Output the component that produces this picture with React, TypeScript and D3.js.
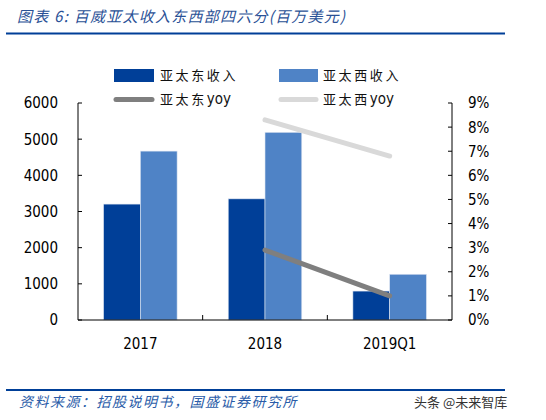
import React from 'react';
import * as d3 from 'd3';

const categories = ['2017', '2018', '2019Q1'];
const eastRevenue = [3205, 3350, 800];
const westRevenue = [4670, 5190, 1265];
const eastYoy: (number | null)[] = [null, 2.9, 1.0];
const westYoy: (number | null)[] = [null, 8.3, 6.8];
const leftTicks = [0, 1000, 2000, 3000, 4000, 5000, 6000];
const rightTicks = [0, 1, 2, 3, 4, 5, 6, 7, 8, 9];

const W = 546;
const H = 420;
const PLOT = { left: 78, right: 452, top: 103, bottom: 320 };

const EAST_BAR = '#003f98';
const WEST_BAR = '#4f83c6';
const EAST_LINE = '#7f7f7f';
const WEST_LINE = '#d9d9d9';
const RULE = '#003f98';
const NUM_FONT = "'DejaVu Sans Condensed', 'Liberation Sans', sans-serif";
const CJK_FONT = "'Noto Sans CJK SC', sans-serif";

const App: React.FC = () => {
    const x = d3.scaleBand<string>()
        .domain(categories)
        .range([PLOT.left, PLOT.right])
        .paddingInner(0)
        .paddingOuter(0);

    const inner = d3.scaleBand<string>()
        .domain(['east', 'west'])
        .range([0, x.bandwidth() * 0.59]);

    const yLeft = d3.scaleLinear().domain([0, 6000]).range([PLOT.bottom, PLOT.top]);
    const yRight = d3.scaleLinear().domain([0, 9]).range([PLOT.bottom, PLOT.top]);

    const groupOffset = (x.bandwidth() - x.bandwidth() * 0.59) / 2;

    const line = d3.line<[string, number | null]>()
        .defined(d => d[1] !== null)
        .x(d => (x(d[0]) ?? 0) + x.bandwidth() / 2)
        .y(d => yRight(d[1] as number));

    const eastPath = line(categories.map((c, i) => [c, eastYoy[i]] as [string, number | null]));
    const westPath = line(categories.map((c, i) => [c, westYoy[i]] as [string, number | null]));

    return (
        <svg
            width={W}
            height={H}
            style={{ position: 'absolute', left: 0, top: 0, background: '#fff' }}
        >
            {/* title */}
            <text
                x={17}
                y={22}
                fontFamily={CJK_FONT}
                fontSize={15}
                fontStyle="italic"
                fill="#2a5196"
                textLength={328}
                lengthAdjust="spacing"
            >
                图表 6:  百威亚太收入东西部四六分(百万美元)
            </text>
            <line x1={6} x2={505} y1={33.5} y2={33.5} stroke={RULE} strokeWidth={2} />

            {/* legend */}
            <rect x={114} y={69} width={40} height={13} fill={EAST_BAR} />
            <text x={160} y={80} fontFamily={CJK_FONT} fontSize={13} letterSpacing={2.6} fill="#111">亚太东收入</text>
            <rect x={279} y={69} width={39} height={13} fill={WEST_BAR} />
            <text x={323} y={80} fontFamily={CJK_FONT} fontSize={13} letterSpacing={2.6} fill="#111">亚太西收入</text>
            <line x1={116} x2={152} y1={99.5} y2={99.5} stroke={EAST_LINE} strokeWidth={5} strokeLinecap="round" />
            <text x={160} y={104} fontFamily={CJK_FONT} fontSize={13} fill="#111">
                <tspan letterSpacing={2.6}>亚太东</tspan><tspan fontFamily={NUM_FONT} fontSize={15}>yoy</tspan>
            </text>
            <line x1={281} x2={316} y1={99.5} y2={99.5} stroke={WEST_LINE} strokeWidth={5} strokeLinecap="round" />
            <text x={323} y={104} fontFamily={CJK_FONT} fontSize={13} fill="#111">
                <tspan letterSpacing={2.6}>亚太西</tspan><tspan fontFamily={NUM_FONT} fontSize={15}>yoy</tspan>
            </text>

            {/* bars */}
            {categories.map((c, i) => {
                const x0 = (x(c) ?? 0) + groupOffset;
                return (
                    <g key={c}>
                        <rect
                            x={x0 + (inner('east') ?? 0)}
                            y={yLeft(eastRevenue[i])}
                            width={inner.bandwidth()}
                            height={yLeft(0) - yLeft(eastRevenue[i])}
                            fill={EAST_BAR}
                            stroke="#dfe6f2"
                            strokeWidth={0.6}
                        />
                        <rect
                            x={x0 + (inner('west') ?? 0)}
                            y={yLeft(westRevenue[i])}
                            width={inner.bandwidth()}
                            height={yLeft(0) - yLeft(westRevenue[i])}
                            fill={WEST_BAR}
                            stroke="#dfe6f2"
                            strokeWidth={0.6}
                        />
                    </g>
                );
            })}

            {/* yoy lines */}
            <path d={westPath ?? ''} fill="none" stroke={WEST_LINE} strokeWidth={5} strokeLinecap="round" />
            <path d={eastPath ?? ''} fill="none" stroke={EAST_LINE} strokeWidth={5} strokeLinecap="round" />

            {/* axes */}
            <line x1={PLOT.left} x2={PLOT.right} y1={PLOT.bottom} y2={PLOT.bottom} stroke="#000" strokeWidth={1} />
            <line x1={PLOT.left} x2={PLOT.left} y1={PLOT.top} y2={PLOT.bottom} stroke="#000" strokeWidth={1} />
            <line x1={PLOT.right} x2={PLOT.right} y1={PLOT.top} y2={PLOT.bottom} stroke="#000" strokeWidth={1} />
            {categories.slice(1).map(c => (
                <line key={c} x1={x(c)} x2={x(c)} y1={PLOT.bottom} y2={PLOT.bottom - 5} stroke="#000" strokeWidth={1} />
            ))}
            {leftTicks.map(t => (
                <g key={`l${t}`}>
                    <line x1={PLOT.left} x2={PLOT.left + 4} y1={yLeft(t)} y2={yLeft(t)} stroke="#000" strokeWidth={1} />
                    <text x={58} y={yLeft(t)} dy="0.36em" textAnchor="end" fontFamily={NUM_FONT} fontSize={15} fill="#000">{t}</text>
                </g>
            ))}
            {rightTicks.map(t => (
                <g key={`r${t}`}>
                    <line x1={PLOT.right} x2={PLOT.right - 4} y1={yRight(t)} y2={yRight(t)} stroke="#000" strokeWidth={1} />
                    <text x={468} y={yRight(t)} dy="0.36em" textAnchor="start" fontFamily={NUM_FONT} fontSize={15} fill="#000">{`${t}%`}</text>
                </g>
            ))}
            {categories.map(c => (
                <text key={c} x={(x(c) ?? 0) + x.bandwidth() / 2} y={349} textAnchor="middle" fontFamily={NUM_FONT} fontSize={15} fill="#000">{c}</text>
            ))}

            {/* footer */}
            <line x1={6} x2={505} y1={390} y2={390} stroke={RULE} strokeWidth={2} />
            <text x={19} y={407} fontFamily={CJK_FONT} fontSize={14} fontStyle="italic" fill="#2a5ca8" letterSpacing={1.5}>
                资料来源：招股说明书，国盛证券研究所
            </text>
            <text x={414} y={407} fontFamily={CJK_FONT} fontSize={13} fill="#333">头条 @未来智库</text>
        </svg>
    );
};

export default App;
